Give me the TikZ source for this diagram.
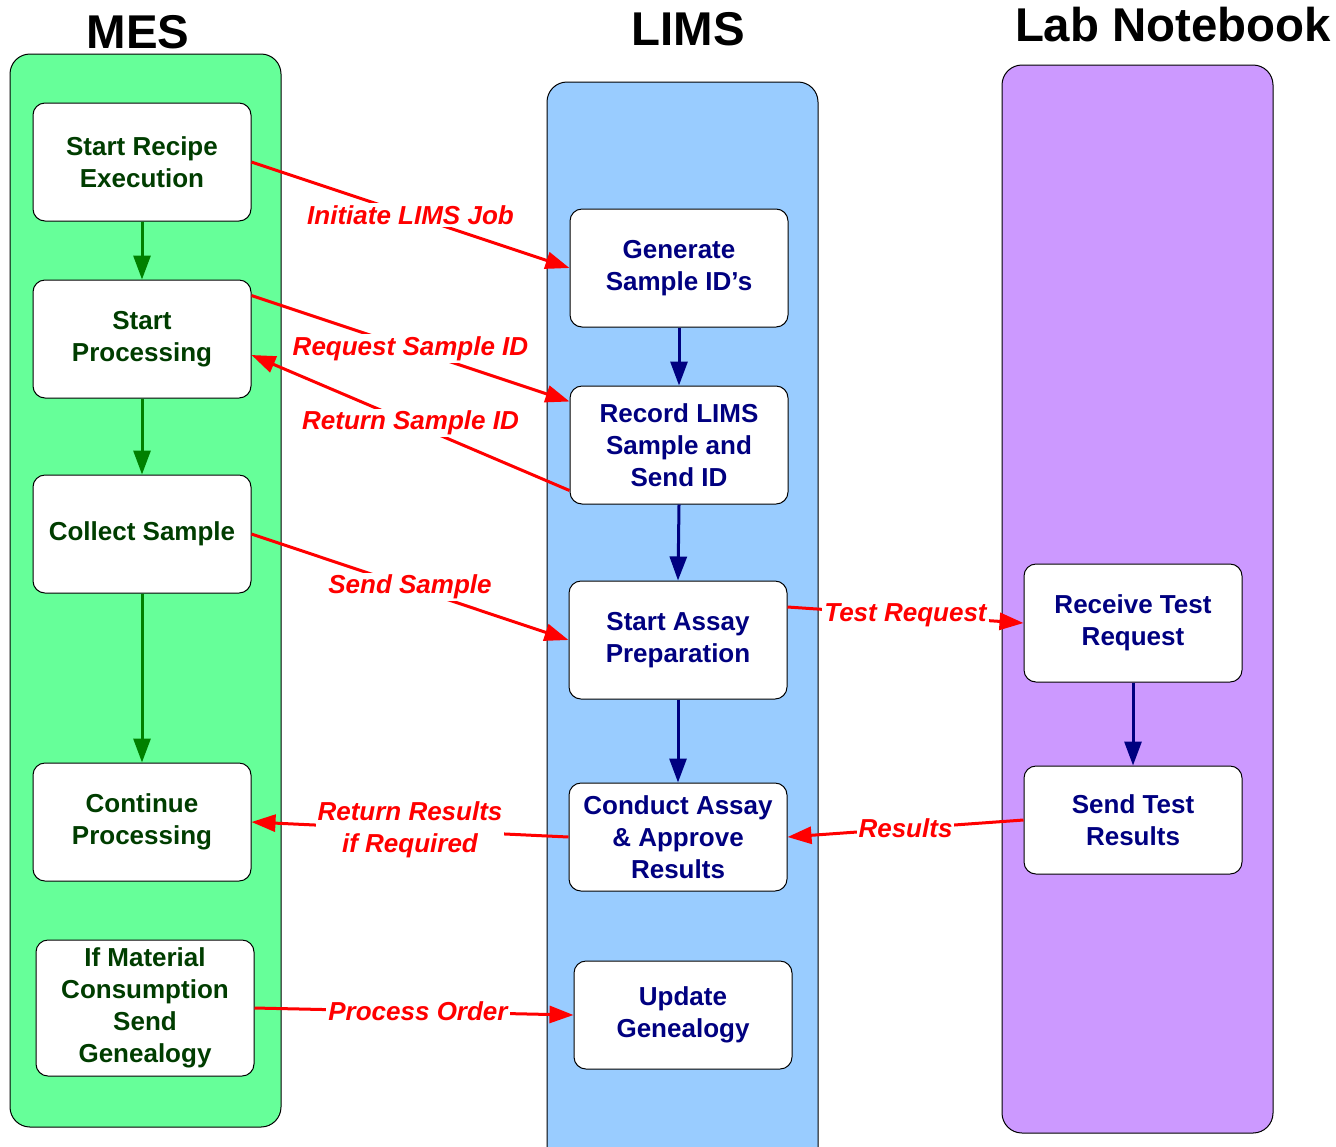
\documentclass[tikz,border=0pt]{standalone}
\usepackage{fontspec}
\setmainfont{Liberation Sans}
\usetikzlibrary{arrows.meta}
\definecolor{mesg}{HTML}{66FF99}
\definecolor{limsb}{HTML}{99CCFF}
\definecolor{labp}{HTML}{CC99FF}
\definecolor{mest}{HTML}{003D00}
\definecolor{mesa}{HTML}{008000}
\definecolor{navy}{HTML}{000080}
\tikzset{
  lane/.style = {draw=black, rounded corners=10pt, line width=0.5pt},
  ttl/.style = {font=\bfseries\fontsize{23.7}{26}\selectfont},
  bx/.style = {draw=black, fill=white, rounded corners=6pt, line width=0.5pt,
    minimum width=109pt, minimum height=59pt, align=center, inner sep=2pt,
    font=\bfseries\fontsize{13}{16}\selectfont},
  mbx/.style = {bx, text=mest},
  lbx/.style = {bx, text=navy},
  seta/.style = {-{Triangle[length=12pt, width=8.5pt]}, line width=1.5pt},
  mseta/.style = {seta, draw=mesa},
  lseta/.style = {seta, draw=navy},
  rseta/.style = {seta, draw=red},
  rot/.style = {fill=white, text=red, inner sep=1pt, align=center,
    font=\bfseries\itshape\fontsize{13}{16}\selectfont}
}

\begin{document}
\begin{tikzpicture}[x=0.5pt, y=-0.5pt]
  \useasboundingbox (0,0) rectangle (1336,1146);
  % raias
  \begin{scope}
    \clip (0,0) rectangle (1336,1146);
    \fill [white] (0,0) rectangle (1336,1146);
    \draw [lane, fill=mesg] (10,54) rectangle (281,1127);
    \draw [lane, fill=limsb] (547,82) rectangle (818,1175);
    \draw [lane, fill=labp] (1002,65) rectangle (1273,1133);
  \end{scope}
  \node [ttl] (tmes) at (138,32) {MES};
  \node [ttl] (tlims) at (688,29) {LIMS};
  \node [ttl] (tlab) at (1173,25) {Lab Notebook};

  % MES
  \node [mbx] (m1) at (142,162) {Start Recipe\\Execution};
  \node [mbx] (m2) at (142,339) {Start\\Processing};
  \node [mbx] (m3) at (142,534) {Collect Sample};
  \node [mbx] (m4) at (142,822) {Continue\\Processing};
  \node [mbx, minimum height=68pt] (m5) at (145,1008)
    {If Material\\Consumption\\Send\\Genealogy};
  \foreach \a/\b in {m1/m2, m2/m3, m3/m4}
    \draw [mseta] (\a.south) -- (\b.north);

  % LIMS
  \node [lbx] (l1) at (679,268) {Generate\\Sample ID’s};
  \node [lbx] (l2) at (679,445) {Record LIMS\\Sample and\\Send ID};
  \node [lbx] (l3) at (678,640) {Start Assay\\Preparation};
  \node [lbx, minimum height=54pt] (l4) at (678,837)
    {Conduct Assay\\\& Approve\\Results};
  \node [lbx, minimum height=54pt] (l5) at (683,1015) {Update\\Genealogy};
  \foreach \a/\b in {l1/l2, l2/l3, l3/l4}
    \draw [lseta] (\a.south) -- (\b.north);

  % Lab Notebook
  \node [lbx] (n1) at (1133,623) {Receive Test\\Request};
  \node [lbx, minimum height=54pt] (n2) at (1133,820) {Send Test\\Results};
  \draw [lseta] (n1.south) -- (n2.north);

  % mensagens
  \draw [rseta] (m1.east) -- (l1.west)
    node [rot, pos=0.5] (e1) {Initiate LIMS Job};
  \draw [rseta] ([yshift=-8pt]m2.north east) -- ([yshift=-8pt]l2.north west)
    node [rot, pos=0.5] (e2) {Request Sample ID};
  \draw [rseta] ([yshift=7pt]l2.south west) -- ([yshift=-8pt]m2.east)
    node [rot, pos=0.5] (e3) {Return Sample ID};
  \draw [rseta] (m3.east) -- (l3.west)
    node [rot, pos=0.5] (e4) {Send Sample};
  \draw [rseta] ([yshift=16.5pt]l3.east) -- (n1.west)
    node [rot, pos=0.5] (e5) {Test Request};
  \draw [rseta] (n2.west) -- (l4.east)
    node [rot, pos=0.5] (e6) {Results};
  \draw [rseta] (l4.west) -- (m4.east)
    node [rot, pos=0.5] (e7) {Return Results\\if Required};
  \draw [rseta] (m5.east) -- (l5.west)
    node [rot, pos=0.5, xshift=2pt] (e8) {Process Order};
\end{tikzpicture}
\end{document}
